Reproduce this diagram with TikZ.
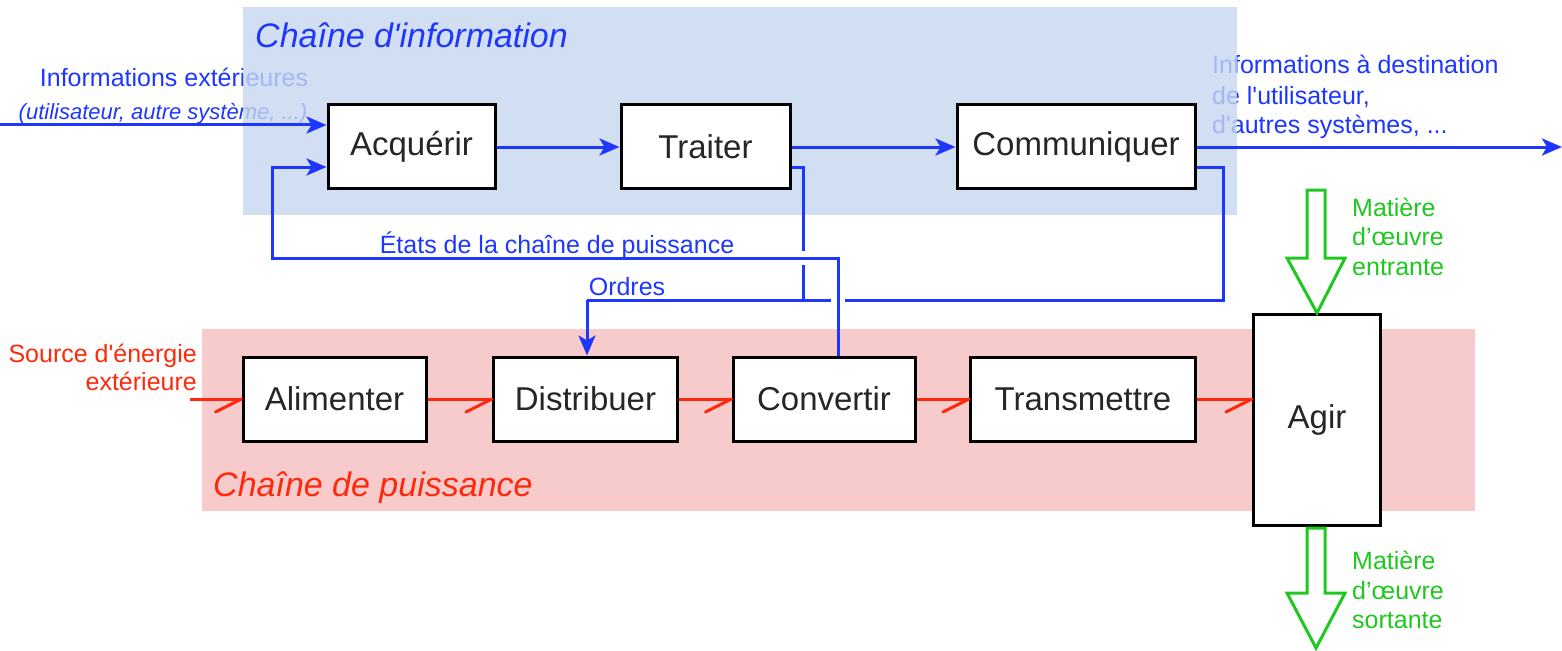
\documentclass[tikz,border=0pt]{standalone}
\usepackage{fontspec}
\setmainfont{Liberation Sans}[Ligatures=TeXOff]
\usetikzlibrary{arrows.meta,calc}
\definecolor{infoblue}{RGB}{30,55,255}
\definecolor{bgblue}{RGB}{199,214,238}
\definecolor{bgpink}{RGB}{247,203,203}
\definecolor{powred}{RGB}{255,40,10}
\definecolor{matgreen}{RGB}{30,200,30}
\newcommand{\fsbox}{\fontsize{33}{38}\selectfont}
\newcommand{\fslab}{\fontsize{25}{29}\selectfont}
\newcommand{\fstitle}{\fontsize{34}{40}\selectfont}
\newcommand{\fssmall}{\fontsize{22}{26}\selectfont}
\newcommand{\powflow}[2]{%
  \draw[powline] (#1) -- (#2);
  \draw[powline,line cap=round] ($(#2)+(-26,13)$) -- (#2);}
\begin{document}
\begin{tikzpicture}[x=1pt,y=-1pt,
  blockbox/.style={draw=black,line width=3pt,fill=white,inner sep=0pt,font=\fsbox,text=black!85},
  infoline/.style={draw=infoblue,line width=3pt},
  infoarrow/.style={infoline,-{Stealth[length=20pt,width=17pt,inset=5pt]}},
  powline/.style={draw=powred,line width=3pt},
  lab/.style={inner sep=0pt,font=\fslab},
  blockarrow/.style={draw=matgreen,line width=3pt,fill=white,line join=miter}
]
\useasboundingbox (0,0) rectangle (1562,650);
% labels lying under the translucent backgrounds
\node[lab,text=infoblue,anchor=base] (infext) at (174,87) {Informations extérieures};
\node[inner sep=0pt,font=\fssmall\itshape,text=infoblue,anchor=base] (infextb) at (163,120) {(utilisateur, autre système, ...)};
\node[lab,text=infoblue,anchor=base west] (infout) at (1212,74) {Informations à destination};
\node[lab,text=infoblue,anchor=base west] (infout2) at (1212,105) {de l'utilisateur,};
\node[lab,text=infoblue,anchor=base west] (infout3) at (1212,133) {d'autres systèmes, ...};
% backgrounds
\fill[bgblue,fill opacity=0.8] (243,7) rectangle (1237,215);
\fill[bgpink] (202,329) rectangle (1475,511);
\node[inner sep=0pt,font=\fstitle\itshape,text=infoblue,anchor=base west] (titinfo) at (255,48) {Chaîne d'information};
\node[inner sep=0pt,font=\fstitle\itshape,text=powred,anchor=base west] (titpow) at (213,496) {Chaîne de puissance};
% blocks
\node[blockbox,minimum width=167pt,minimum height=84pt] (acq) at (411.5,146.5) {Acquérir};
\node[blockbox,minimum width=169pt,minimum height=84pt] (tra) at (705.5,146.5) {Traiter};
\node[blockbox,minimum width=238pt,minimum height=84pt] (com) at (1076,146.5) {Communiquer};
\node[blockbox,minimum width=183pt,minimum height=84pt] (ali) at (334.5,399) {Alimenter};
\node[blockbox,minimum width=184pt,minimum height=84pt] (dis) at (585.5,399) {Distribuer};
\node[blockbox,minimum width=182pt,minimum height=84pt] (con) at (824,399) {Convertir};
\node[blockbox,minimum width=225pt,minimum height=84pt] (trm) at (1083,399) {Transmettre};
\node[blockbox,minimum width=127pt,minimum height=211pt] (agi) at (1317,420) {Agir};
% information flow
\coordinate (inL) at (0,125);
\coordinate (outR) at (1562,147);
\draw[infoarrow] (inL) -- (inL -| acq.west);
\draw[infoarrow] (acq.east |- 0,147) -- (tra.west |- 0,147);
\draw[infoarrow] (tra.east |- 0,147) -- (com.west |- 0,147);
\draw[infoarrow] (com.east |- 0,147) -- (outR);
% orders from Traiter and Communiquer
\draw[infoline] (tra.east |- 0,167) -| (803,300) -- (587,300);
\draw[infoarrow] (587,300) -- (dis.north -| 587,0);
\draw[infoline] (com.east |- 0,167) -| (1223,300) -- (803,300);
% crossing gaps
\fill[white] (796,251) rectangle (810,265);
\fill[white] (831,293) rectangle (845,307);
% feedback from Convertir
\draw[infoarrow] (con.north -| 838,0) |- (272,258) |- (acq.west |- 0,167);
\node[lab,text=infoblue,anchor=base] (etats) at (557,253) {États de la chaîne de puissance};
\node[lab,text=infoblue,anchor=base] (ordres) at (627,295) {Ordres};
% power flow
\coordinate (srcL) at (190,399);
\coordinate (agiin) at (trm.east -| agi.west);
\powflow{srcL}{ali.west}
\powflow{ali.east}{dis.west}
\powflow{dis.east}{con.west}
\powflow{con.east}{trm.west}
\powflow{trm.east}{agiin}
\node[lab,text=powred,anchor=base east] (src) at (197,362) {Source d'énergie};
\node[lab,text=powred,anchor=base east] (src2) at (197,390) {extérieure};
% material arrows
\draw[blockarrow] (1307,190) -- (1325,190) -- (1325,258) -- (1345,258) -- (agi.north) -- (1287,258) -- (1307,258) -- cycle;
\draw[blockarrow] (1307,528) -- (1325,528) -- (1325,593) -- (1345,593) -- (1316,648) -- (1287,593) -- (1307,593) -- cycle;
\node[lab,text=matgreen,anchor=base west] (matin) at (1352,216) {Matière};
\node[lab,text=matgreen,anchor=base west] (matin2) at (1352,245) {d’œuvre};
\node[lab,text=matgreen,anchor=base west] (matin3) at (1352,275) {entrante};
\node[lab,text=matgreen,anchor=base west] (matout) at (1352,569) {Matière};
\node[lab,text=matgreen,anchor=base west] (matout2) at (1352,599) {d’œuvre};
\node[lab,text=matgreen,anchor=base west] (matout3) at (1352,628) {sortante};
\end{tikzpicture}
\end{document}
